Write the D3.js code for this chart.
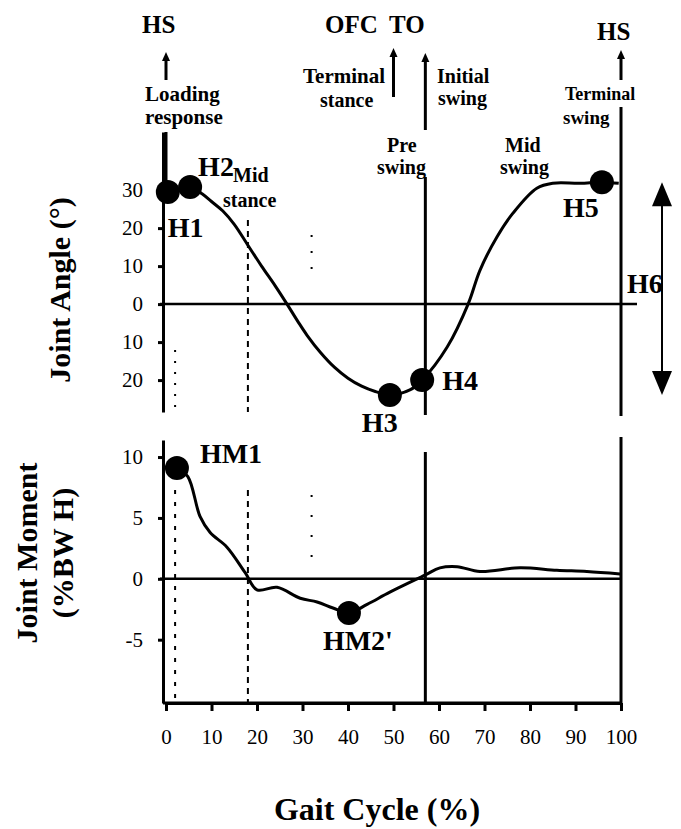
<!DOCTYPE html>
<html>
<head>
<meta charset="utf-8">
<script src="https://cdn.jsdelivr.net/npm/d3@7"></script>
<style>
  body { margin: 0; background: #fff; }
  svg { display: block; font-family: "Liberation Serif", "Times New Roman", serif; }
  .bold { font-weight: bold; }
</style>
</head>
<body>
<svg width="681" height="829"></svg>
<script>
// Hip joint angle and moment over one gait cycle

const anglePct = [0, 0.4, 3, 5.3, 8, 10, 12.5, 15, 18, 21, 24, 26.6, 29, 31, 34, 37, 40, 43, 46, 49.2, 53.6, 56.3, 61.8, 66.4, 69, 72.7, 76.3, 81.5, 85, 91, 95.8, 99.5];
const angleDeg = [29, 29.5, 30, 30.8, 29, 27, 24.5, 21, 15.5, 10, 4.8, 0, -4.6, -8.2, -12.8, -16.6, -19.5, -21.6, -23, -23.9, -22.6, -20, -11.3, 0, 8.9, 17.6, 24, 30.5, 31.8, 31.8, 32.1, 31.8];

const momentPct = [0, 2.4, 4.8, 7.5, 9.7, 13.4, 17.4, 20, 24.4, 29.5, 33.2, 36.7, 40.2, 44.2, 49.2, 56.9, 60.2, 64, 69, 77.8, 85.9, 92.5, 99.8];
const momentVal = [9.3, 9.1, 8.4, 5.1, 3.8, 2.6, 0.5, -0.9, -0.7, -1.6, -1.9, -2.4, -2.8, -2.1, -1.1, 0.3, 0.9, 1.0, 0.6, 0.9, 0.7, 0.6, 0.4];

const angleMarkers = ["H1", "H2", "H3", "H4", "H5"];
const angleMarkerPct = [0.4, 5.3, 49.2, 56.3, 95.8];
const angleMarkerDeg = [29.5, 30.8, -23.9, -20, 32.1];

const momentMarkers = ["HM1", "HM2'"];
const momentMarkerPct = [2.4, 40.2];
const momentMarkerVal = [9.1, -2.8];

const xTicks = [0, 10, 20, 30, 40, 50, 60, 70, 80, 90, 100];
const angleTicks = [30, 20, 10, 0, -10, -20];
const angleTickLabels = ["30", "20", "10", "0", "10", "20"];
const momentTicks = [10, 5, 0, -5];
const momentTickLabels = ["10", "5", "0", "-5"];

const events = ["HS", "OFC", "TO", "HS"];
const eventPct = [0, 50, 57, 100];

const svg = d3.select("svg");

const x = d3.scaleLinear().domain([0, 100]).range([166, 621]);
const yA = d3.scaleLinear().domain([-28.4, 45.3]).range([412, 132]);
const yM = d3.scaleLinear().domain([-10.2, 11.4]).range([703, 440]);

// vertical phase lines
const vline = (pct, y1, y2, w, dash) => {
  svg.append("line")
    .attr("x1", x(pct)).attr("x2", x(pct))
    .attr("y1", y1).attr("y2", y2)
    .attr("stroke", "#000").attr("stroke-width", w)
    .attr("stroke-dasharray", dash || null);
};

// upper panel lines
vline(2, 350, 412, 2, "2,9");
vline(18, 220, 412, 2, "6,5");
vline(32, 235, 275, 2, "2,14");
vline(57, 177, 415, 3);
vline(100, 107, 416, 3);
// lower panel lines
vline(2, 490, 703, 2, "4,8");
vline(18, 490, 703, 2, "6,5");
vline(32, 495, 560, 2, "2,18");
vline(57, 452, 703, 3);
vline(100, 437, 703, 3);

// zero lines
svg.append("line").attr("x1", 160).attr("x2", 637)
  .attr("y1", yA(0)).attr("y2", yA(0))
  .attr("stroke", "#000").attr("stroke-width", 2.5);
svg.append("line").attr("x1", 160).attr("x2", x(100))
  .attr("y1", yM(0)).attr("y2", yM(0))
  .attr("stroke", "#000").attr("stroke-width", 2.5);

// axes
const styleAxis = (g, size) => {
  g.selectAll("path").attr("stroke", "#000").attr("stroke-width", 3);
  g.selectAll("line").attr("stroke", "#000").attr("stroke-width", 3);
  g.selectAll("text").attr("fill", "#000").style("font-size", size + "px")
    .style("font-family", "Liberation Serif");
};

const yAxisA = d3.axisLeft(yA).tickValues(angleTicks)
  .tickFormat((d, i) => angleTickLabels[i]).tickSize(5).tickPadding(15).tickSizeOuter(0);
svg.append("g").attr("transform", "translate(163,0)").call(yAxisA)
  .call(g => styleAxis(g, 21));

const yAxisM = d3.axisLeft(yM).tickValues(momentTicks)
  .tickFormat((d, i) => momentTickLabels[i]).tickSize(5).tickPadding(15).tickSizeOuter(0);
svg.append("g").attr("transform", "translate(163,0)").call(yAxisM)
  .call(g => styleAxis(g, 21));

const xAxis = d3.axisBottom(x).tickValues(xTicks).tickSize(8).tickPadding(18).tickSizeOuter(0);
svg.append("g").attr("transform", "translate(0,703)").call(xAxis)
  .call(g => styleAxis(g, 21));
svg.append("line").attr("x1", 163).attr("x2", x(100)).attr("y1", 703).attr("y2", 703)
  .attr("stroke", "#000").attr("stroke-width", 3);

// curves
const angleLine = d3.line().x((d, i) => x(anglePct[i])).y(d => yA(d)).curve(d3.curveCatmullRom);
svg.append("path").attr("d", angleLine(angleDeg))
  .attr("fill", "none").attr("stroke", "#000").attr("stroke-width", 3);

const momentLine = d3.line().x((d, i) => x(momentPct[i])).y(d => yM(d)).curve(d3.curveCatmullRom);
svg.append("path").attr("d", momentLine(momentVal))
  .attr("fill", "none").attr("stroke", "#000").attr("stroke-width", 3);

// markers
const angleLabelOff = [[0, 45], [8, -11], [-28, 37], [20, 10], [-39, 35]];
angleMarkers.forEach((name, i) => {
  const cx = x(angleMarkerPct[i]);
  const cy = yA(angleMarkerDeg[i]);
  svg.append("circle").attr("cx", cx).attr("cy", cy).attr("r", 12).attr("fill", "#000");
  svg.append("text").attr("class", "bold")
    .attr("x", cx + angleLabelOff[i][0]).attr("y", cy + angleLabelOff[i][1])
    .style("font-size", "28px").text(name);
});

const momentLabelOff = [[23, -5], [-26, 37]];
momentMarkers.forEach((name, i) => {
  const cx = x(momentMarkerPct[i]);
  const cy = yM(momentMarkerVal[i]);
  svg.append("circle").attr("cx", cx).attr("cy", cy).attr("r", 12).attr("fill", "#000");
  svg.append("text").attr("class", "bold")
    .attr("x", cx + momentLabelOff[i][0]).attr("y", cy + momentLabelOff[i][1])
    .style("font-size", "28px").text(name);
});

// H6 range arrow
svg.append("line").attr("x1", 662).attr("x2", 662)
  .attr("y1", yA(32.1) + 20).attr("y2", yA(-23.9) - 20)
  .attr("stroke", "#000").attr("stroke-width", 2);
[[yA(32.1), -1], [yA(-23.9), 1]].forEach(([tip, dir]) => {
  svg.append("path")
    .attr("d", `M662,${tip}L652,${tip - dir * 24}L672,${tip - dir * 24}Z`)
    .attr("fill", "#000");
});
svg.append("text").attr("class", "bold").attr("x", 627).attr("y", 293)
  .style("font-size", "28px").text("H6");

// gait events at the top
const eventX = [142, 325, 389, 597];
events.forEach((name, i) => {
  svg.append("text").attr("class", "bold").attr("x", eventX[i]).attr("y", i === 3 ? 40 : 33)
    .style("font-size", "25px").text(name);
});
const arrow = (pct, y1, y2) => {
  svg.append("line").attr("x1", x(pct)).attr("x2", x(pct)).attr("y1", y1 + 6).attr("y2", y2)
    .attr("stroke", "#000").attr("stroke-width", 3);
  svg.append("path").attr("d", `M${x(pct)},${y1}L${x(pct) - 4},${y1 + 9}L${x(pct) + 4},${y1 + 9}Z`)
    .attr("fill", "#000");
};
eventPct.forEach((p, i) => {
  const ends = [[52, 80], [48, 97], [53, 130], [50, 80]][i];
  arrow(p, ends[0], ends[1]);
});
svg.append("line").attr("x1", x(0)).attr("x2", x(0)).attr("y1", 132).attr("y2", 190)
  .attr("stroke", "#000").attr("stroke-width", 3);

// gait phase labels
const phases = [
  ["Loading", 145, 101, 21], ["response", 145, 124, 21],
  ["Mid", 233, 182, 20], ["stance", 223, 207, 20],
  ["Terminal", 303, 83, 21], ["stance", 320, 107, 20],
  ["Pre", 387, 152, 20], ["swing", 377, 174, 20],
  ["Initial", 437, 83, 20], ["swing", 438, 105, 20],
  ["Mid", 505, 152, 20], ["swing", 500, 174, 20],
  ["Terminal", 565, 100, 18], ["swing", 563, 124, 19]
];
phases.forEach(([t, px, py, fs]) => {
  svg.append("text").attr("class", "bold").attr("x", px).attr("y", py)
    .style("font-size", fs + "px").text(t);
});

// axis titles
svg.append("text").attr("class", "bold")
  .attr("transform", "translate(70,290) rotate(-90)")
  .attr("text-anchor", "middle").style("font-size", "30px").text("Joint Angle (°)");
svg.append("text").attr("class", "bold")
  .attr("transform", "translate(37,553) rotate(-90)")
  .attr("text-anchor", "middle").style("font-size", "30px").text("Joint Moment");
svg.append("text").attr("class", "bold")
  .attr("transform", "translate(73,553) rotate(-90)")
  .attr("text-anchor", "middle").style("font-size", "30px").text("(%BW H)");
svg.append("text").attr("class", "bold")
  .attr("x", 377).attr("y", 820).attr("text-anchor", "middle")
  .style("font-size", "32px").text("Gait Cycle (%)");
</script>
</body>
</html>
